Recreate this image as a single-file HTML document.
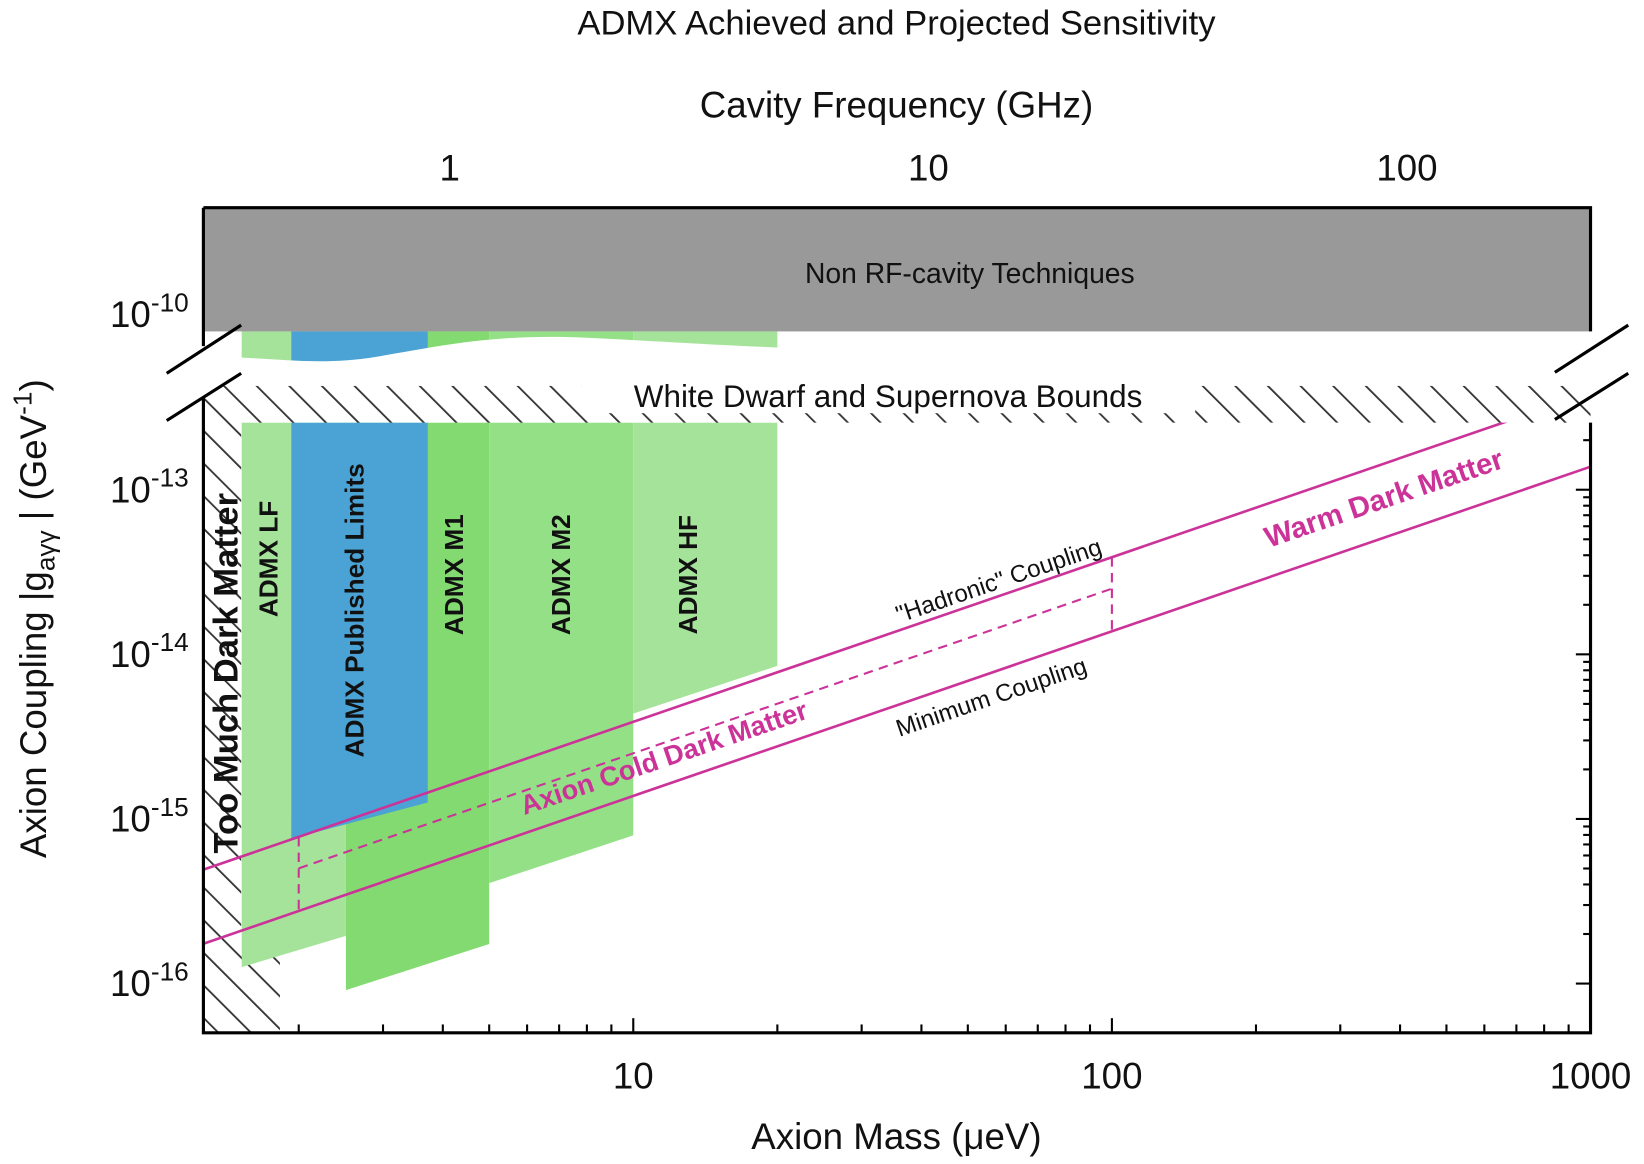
<!DOCTYPE html>
<html><head><meta charset="utf-8"><style>
html,body{margin:0;padding:0;background:#fff;}
svg{display:block;font-family:"Liberation Sans",Arial,sans-serif;}
</style></head><body>
<svg id="chart" width="1644" height="1164" viewBox="0 0 1568 1110" xmlns="http://www.w3.org/2000/svg">
<defs>
<pattern id="hatch" patternUnits="userSpaceOnUse" width="22" height="22" patternTransform="rotate(-45)">
<rect width="22" height="22" fill="#fff"/><line x1="0" y1="0" x2="0" y2="22" stroke="#333" stroke-width="3.5"/>
</pattern>
<clipPath id="plotclip"><rect x="194" y="198" width="1323" height="787"/></clipPath>
<clipPath id="lineclip"><rect x="194" y="403" width="1323" height="582"/></clipPath>
</defs>
<g id="layer"></g>
</svg>
<script>
// data
const massTicks = [10, 100, 1000];
const freqTicks = [1, 10, 100];
const couplingTicks = [-13, -14, -15, -16];
const regionNames = ["ADMX LF", "ADMX M1", "ADMX M2", "ADMX HF"];
const regionMassLo = [1.52, 2.51, 5.0, 10];
const regionMassHi = [2.51, 5.0, 10, 20];
const regionLogGLo = [-15.90, -16.04, -15.39, -14.36];
const regionLogGHi = [-15.71, -15.76, -15.10, -14.07];
const regionColors = ["#a6e39a", "#82da70", "#94e086", "#a6e39a"];
const blueMass = [1.93, 3.72];
const blueLogG = [-15.12, -14.90];
const ksvzLogGAt10 = -14.41;
const dfszLogGAt10 = -14.86;
const dashedLogGAt2 = -15.30;

const NS = "http://www.w3.org/2000/svg";
const L = document.getElementById('layer');
function xm(m){return 604 + (Math.log10(m)-1)*456.5;}
function yg(lg){return 467 + (-13 - lg)*157;}
function xf(f){return xm(f/0.2418);}
function el(tag, attrs, parent){const e=document.createElementNS(NS,tag);for(const k in attrs)e.setAttribute(k,attrs[k]);(parent||L).appendChild(e);return e;}
function txt(s, attrs, parent){const e=el('text',attrs,parent);e.textContent=s;return e;}

const plot = el('g',{'clip-path':'url(#plotclip)'});



let h = el('path',{d:'M194 385 L230 385 L230 905 L267 905 L267 985 L194 985 Z',fill:'url(#hatch)'},plot);



for(let i=0;i<regionNames.length;i++){
  const x1=xm(regionMassLo[i]), x2=xm(regionMassHi[i]);
  const p=el('path',{d:`M${x1} 403 L${x2} 403 L${x2} ${yg(regionLogGHi[i])} L${x1} ${yg(regionLogGLo[i])} Z`,fill:regionColors[i]},plot);
  
  
  const u=el('rect',{x:x1,y:316,width:x2-x1,height:40,fill:regionColors[i]},plot);
  
  
}
{
  const x1=xm(blueMass[0]), x2=xm(blueMass[1]);
  const p=el('path',{d:`M${x1} 403 L${x2} 403 L${x2} ${yg(blueLogG[1])} L${x1} ${yg(blueLogG[0])} Z`,fill:'#4aa3d4'},plot);
  
  
  const u=el('rect',{x:x1,y:316,width:x2-x1,height:40,fill:'#4aa3d4'},plot);
  
  
}
let w = el('path',{d:'M194 340 C260 340 300 350 360 340 C420 330 470 318 560 322 C640 326 700 330 760 332 L760 368 L194 368 Z',fill:'#fff'},plot);


let g2 = el('rect',{x:194,y:198,width:1323,height:118,fill:'#999'},plot);


h = el('rect',{x:194,y:368,width:1323,height:35,fill:'url(#hatch)'},plot);


let wt = el('rect',{x:555,y:362,width:585,height:32,fill:'#fff'},plot);



const lines = el('g',{'clip-path':'url(#lineclip)'},plot);


const mA=1.26, mB=1000;
function lineY(base,m){return yg(base+Math.log10(m/10));}
const ks=el('line',{x1:xm(mA),y1:lineY(ksvzLogGAt10,mA),x2:xm(mB),y2:lineY(ksvzLogGAt10,mB),stroke:'#cc3399','stroke-width':2.5},lines);


const df=el('line',{x1:xm(mA),y1:lineY(dfszLogGAt10,mA),x2:xm(mB),y2:lineY(dfszLogGAt10,mB),stroke:'#cc3399','stroke-width':2.5},lines);


const dash={stroke:'#cc3399','stroke-width':2,'stroke-dasharray':'9,6',fill:'none'};
const dA=2, dB=100;
const dp=el('path',Object.assign({d:`M${xm(dA)} ${lineY(ksvzLogGAt10,dA)} L${xm(dA)} ${lineY(dfszLogGAt10,dA)} M${xm(dA)} ${yg(dashedLogGAt2)} L${xm(dB)} ${yg(dashedLogGAt2+Math.log10(dB/dA))} M${xm(dB)} ${lineY(ksvzLogGAt10,dB)} L${xm(dB)} ${lineY(dfszLogGAt10,dB)}`},dash),lines);



const labelPos=[[258,"ADMX LF",533],[340,"ADMX Published Limits",582],[435,"ADMX M1",548],[537,"ADMX M2",548],[658,"ADMX HF",548]];
for(const [x,s,y] of labelPos){
  const t=txt(s,{x:x,y:y,transform:`rotate(-90 ${x} ${y})`,'text-anchor':'middle','dominant-baseline':'middle','font-size':25,'font-weight':'bold',fill:'#111'});
  
  
}
let t=txt("Too Much Dark Matter",{x:218,y:642,transform:'rotate(-90 218 642)','text-anchor':'middle','dominant-baseline':'middle','font-size':33,'font-weight':'bold',fill:'#111'});


t=txt("Non RF-cavity Techniques",{x:925,y:270,'text-anchor':'middle','font-size':27,fill:'#111'});


t=txt("White Dwarf and Supernova Bounds",{x:847,y:388,'text-anchor':'middle','font-size':30,fill:'#111'});


const ang=-18.8;
function rtxt(s,x,y,size,bold,fill,name){
  const e=txt(s,{x:x,y:y,transform:`rotate(${ang} ${x} ${y})`,'text-anchor':'middle','font-size':size,'font-weight':bold?'bold':'normal',fill:fill});}
// y values are baselines
rtxt("Axion Cold Dark Matter",636,731,26,true,'#cc3399','axion-cold-dark-matter-label');
rtxt("Warm Dark Matter",1323,484,28,true,'#cc3399','warm-dark-matter-label');
rtxt("\"Hadronic\" Coupling",955,561,23,false,'#111','hadronic-coupling-label');
rtxt("Minimum Coupling",948,672,23,false,'#111','minimum-coupling-label');

const ax=el('path',{d:'M194 198 L1517 198 L1517 316 M1517 403 L1517 985 L194 985 L194 380 M194 330 L194 198',stroke:'#000','stroke-width':3,fill:'none'});


const br=el('path',{d:'M159 356 L230 310 M159 401 L230 356 M1483 355 L1553 310 M1483 400 L1553 356',stroke:'#000','stroke-width':3});


for(let d=0;d<3;d++){for(let k=1;k<10;k++){const m=k*Math.pow(10,d);if(m<1.26)continue;const x=xm(m);const len=k===1?14:8;
 const tk=el('line',{x1:x,y1:985,x2:x,y2:985-len,stroke:'#000','stroke-width':2});}}
for(const m of massTicks){const e=txt(String(m),{x:xm(m),y:1038,'text-anchor':'middle','font-size':35,fill:'#111'});}
for(const f of freqTicks){const e=txt(String(f),{x:xf(f),y:172,'text-anchor':'middle','font-size':35,fill:'#111'});}
for(const lg of couplingTicks){for(let k=1;k<10;k++){const y=yg(lg+Math.log10(k));if(y<403)continue;const len=k===1?14:7;
 const tk=el('line',{x1:1517,y1:y,x2:1517-len,y2:y,stroke:'#000','stroke-width':2});}}
function ylab(exp,y){const e=el('text',{x:180,y:y+12,'text-anchor':'end','font-size':35,fill:'#111'});
 const a=el('tspan',{},e);a.textContent='10';const b=el('tspan',{dy:-15,'font-size':25},e);b.textContent=String(exp);}
for(const lg of couplingTicks) ylab(lg,yg(lg));
ylab(-10,300);
t=txt("ADMX Achieved and Projected Sensitivity",{x:855,y:33,'text-anchor':'middle','font-size':33,fill:'#111'});

t=txt("Cavity Frequency (GHz)",{x:855,y:112,'text-anchor':'middle','font-size':35,fill:'#111'});

t=txt("Axion Mass (\u03bceV)",{x:855,y:1096,'text-anchor':'middle','font-size':35,fill:'#111'});

t=el('text',{x:44,y:590,transform:'rotate(-90 44 590)','text-anchor':'middle','font-size':35,fill:'#111'});

t.innerHTML='Axion Coupling |g<tspan font-size="25" dy="8">a\u03b3\u03b3</tspan><tspan dy="-8"> | (GeV</tspan><tspan font-size="25" dy="-14">-1</tspan><tspan dy="14">)</tspan>';
</script>
</body></html>
